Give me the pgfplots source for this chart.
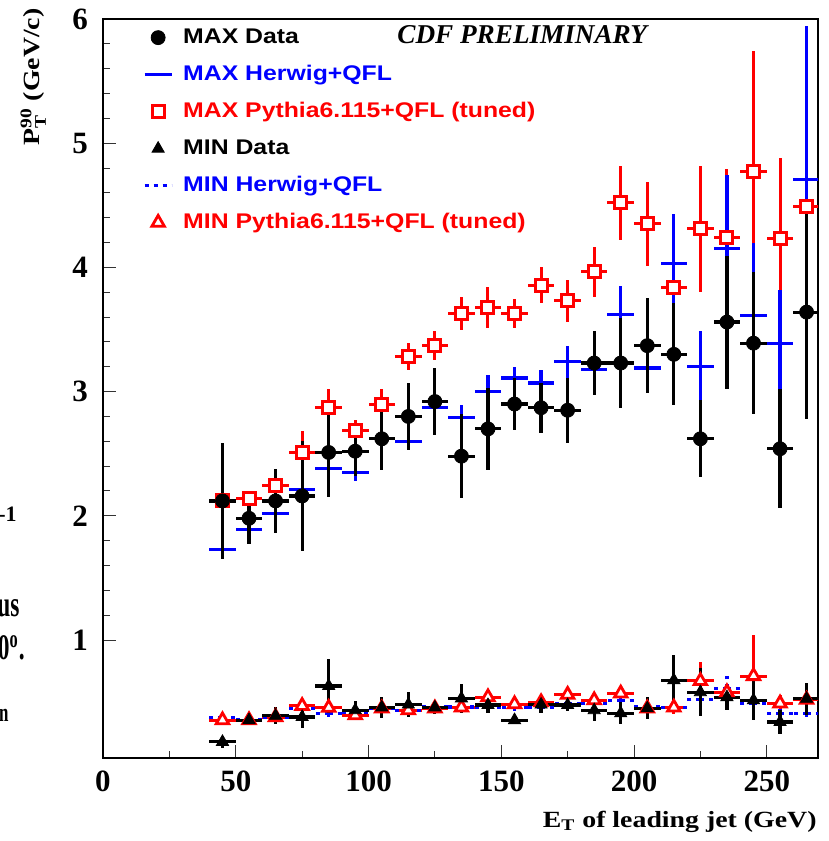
\documentclass[border=0pt]{standalone}
\usepackage{amsmath}
\usepackage{fontspec}
\setmainfont{Liberation Serif}
\newfontfamily\legfont{Liberation Sans}[FakeStretch=1.17]
\newfontfamily\labfont{Liberation Serif}[FakeStretch=1.2]
\newfontfamily\condfont{Liberation Serif}[FakeStretch=0.65]
\usepackage{pgfplots}
\usepackage{pgfplotstable}
\pgfplotsset{compat=1.18}

% MAX region
\pgfplotstableread{
x y ey
45 2.12 0.47
55 1.98 0.21
65 2.12 0.26
75 2.16 0.44
85 2.51 0.36
95 2.52 0.20
105 2.62 0.25
115 2.80 0.27
125 2.92 0.27
135 2.48 0.34
145 2.70 0.33
155 2.90 0.21
165 2.87 0.20
175 2.85 0.26
185 3.23 0.26
195 3.23 0.36
205 3.37 0.385
215 3.30 0.41
225 2.62 0.31
235 3.56 0.535
245 3.39 0.57
255 2.54 0.48
265 3.64 0.86
}\maxdata

\pgfplotstableread{
x y ey
45 1.73 0.07
55 1.89 0.03
65 2.02 0.07
75 2.21 0.15
85 2.38 0.10
95 2.35 0.07
105 2.62 0.05
115 2.60 0.07
125 2.87 0.05
135 2.79 0.10
145 3.00 0.13
155 3.11 0.09
165 3.07 0.10
175 3.24 0.13
185 3.18 0.10
195 3.62 0.23
205 3.19 0.15
215 4.03 0.40
225 3.20 0.29
235 4.15 0.59
245 3.61 0.59
255 3.39 0.43
265 4.71 1.23
}\maxherwig

\pgfplotstableread{
x y ey
45 2.12 0.05
55 2.14 0.04
65 2.245 0.06
75 2.51 0.17
85 2.875 0.15
95 2.69 0.08
105 2.895 0.13
115 3.28 0.11
125 3.37 0.115
135 3.63 0.13
145 3.68 0.165
155 3.63 0.115
165 3.855 0.145
175 3.73 0.17
185 3.965 0.20
195 4.52 0.30
205 4.35 0.34
215 3.835 0.10
225 4.31 0.51
235 4.24 0.55
245 4.77 0.97
255 4.23 0.65
265 4.49 0.50
}\maxpythia

% MIN region
\pgfplotstableread{
x y ey
45 0.18 0.05
55 0.355 0.03
65 0.39 0.07
75 0.38 0.09
85 0.63 0.215
95 0.435 0.07
105 0.457 0.085
115 0.48 0.10
125 0.457 0.05
135 0.53 0.115
145 0.476 0.06
155 0.355 0.03
165 0.48 0.07
175 0.476 0.05
185 0.435 0.085
195 0.41 0.09
205 0.45 0.09
215 0.677 0.20
225 0.58 0.195
235 0.54 0.10
245 0.516 0.16
255 0.34 0.10
265 0.527 0.13
}\mindata

\pgfplotstableread{
x y ey
45 0.373 0.02
55 0.36 0.02
65 0.38 0.02
75 0.45 0.03
85 0.41 0.03
95 0.42 0.03
105 0.45 0.03
115 0.43 0.03
125 0.46 0.03
135 0.46 0.03
145 0.46 0.03
155 0.455 0.03
165 0.46 0.03
175 0.49 0.03
185 0.49 0.04
195 0.516 0.04
205 0.46 0.04
215 0.457 0.04
225 0.52 0.05
235 0.61 0.10
245 0.49 0.06
255 0.41 0.06
265 0.41 0.07
}\minherwig

\pgfplotstableread{
x y ey
45 0.355 0.02
55 0.355 0.02
65 0.38 0.02
75 0.47 0.03
85 0.455 0.03
95 0.395 0.03
105 0.45 0.03
115 0.435 0.03
125 0.45 0.03
135 0.457 0.03
145 0.54 0.03
155 0.484 0.03
165 0.50 0.03
175 0.56 0.04
185 0.516 0.04
195 0.57 0.04
205 0.45 0.05
215 0.457 0.05
225 0.67 0.15
235 0.58 0.06
245 0.71 0.33
255 0.49 0.07
265 0.52 0.07
}\minpythia

\pgfplotsset{
  binerr/.style={only marks, forget plot,
    error bars/x dir=both, error bars/x fixed=5,
    error bars/y dir=both, error bars/y explicit,
    error bars/error mark=none,
    error bars/error bar style={line width=#1}},
  nomark/.style={mark=*, mark size=0pt,
    mark options={draw opacity=0, fill opacity=0}},
}

\begin{document}
\begin{tikzpicture}
\path[use as bounding box] (-51.5pt,-41.5pt) rectangle (363pt,379pt);
\begin{axis}[
  name=ax, at={(0pt,0pt)}, anchor=south west,
  scale only axis, width=357.5pt, height=369.5pt,
  xmin=0, xmax=269.3, ymin=0.05, ymax=6,
  xtick={0,50,...,250}, minor x tick num=1,
  ytick={1,2,...,6}, minor y tick num=4,
  xtick pos=bottom, ytick pos=left, tick align=inside,
  major tick length=6.5pt, minor tick length=3.5pt,
  tick style={black!80, line width=0.5pt},
  axis line style={line width=0.6pt},
  /pgf/number format/assume math mode=true,
  ticklabel style={font=\fontsize{15.5}{15.5}\selectfont\bfseries},
  xticklabel style={yshift=-3pt},
  yticklabel style={xshift=-4pt},
  legend cell align=left,
  legend image code/.code={\draw[mark repeat=2,mark phase=2,#1]
    plot coordinates {(0pt,0pt) (6.75pt,0pt) (13.5pt,0pt)};},
  legend style={at={(axis description cs:0.056,0.989)}, anchor=north west,
    draw=none, fill=none, inner sep=0pt, outer sep=0pt,
    font=\legfont\bfseries\fontsize{10.6}{12}\selectfont,
    row sep=8pt,
    nodes={inner sep=0pt, text height=8pt, text depth=2.5pt},
    /tikz/every odd column/.append style={column sep=5pt}},
]
% legend
\addlegendimage{only marks, mark=*, black, mark size=3.5pt}
\addlegendentry{MAX Data}
\addlegendimage{blue, mark=none, line width=1.6pt}
\addlegendentry[text=blue]{MAX Herwig+QFL}
\addlegendimage{only marks, mark=square*, red, mark size=3pt,
  mark options={fill=white, draw=red, line width=1.5pt}}
\addlegendentry[text=red]{MAX Pythia6.115+QFL (tuned)}
\addlegendimage{only marks, mark=triangle*, black, mark size=3.5pt}
\addlegendentry{MIN Data}
\addlegendimage{blue, mark=none, line width=1.6pt, dash pattern=on 2pt off 2.5pt}
\addlegendentry[text=blue]{MIN Herwig+QFL}
\addlegendimage{only marks, mark=triangle*, red, mark size=3.6pt,
  mark options={fill=white, draw=red, line width=1.4pt}}
\addlegendentry[text=red]{MIN Pythia6.115+QFL (tuned)}

% MAX
\addplot[binerr=1.5pt, red, mark=square*, mark size=3pt,
  mark options={fill=white, draw=red, line width=1.5pt}]
  table[x=x, y=y, y error=ey] {\maxpythia};
\addplot[binerr=1.6pt, blue, nomark]
  table[x=x, y=y, y error=ey] {\maxherwig};
\addplot[binerr=1.6pt, black, mark=*, mark size=3.5pt]
  table[x=x, y=y, y error=ey] {\maxdata};
% MIN
\addplot[binerr=1.5pt, red, mark=triangle*, mark size=3.6pt,
  mark options={fill=white, draw=red, line width=1.4pt}]
  table[x=x, y=y, y error=ey] {\minpythia};
\addplot[binerr=1.6pt, blue, nomark,
  error bars/error bar style={line width=1.6pt, dash pattern=on 2pt off 2.5pt}]
  table[x=x, y=y, y error=ey] {\minherwig};
\addplot[binerr=1.6pt, black, mark=triangle*, mark size=3.5pt]
  table[x=x, y=y, y error=ey] {\mindata};
\end{axis}

\node[anchor=base west, inner sep=0pt, font=\fontsize{13.6}{14}\selectfont\bfseries\itshape]
  at (147pt,357pt) {CDF PRELIMINARY};
\node[rotate=90, anchor=base east, inner sep=0pt, font=\labfont\bfseries\fontsize{11.6}{12}\selectfont]
  at (-31.5pt,375pt) {P$_{\text{T}}^{\text{90}}$ (GeV/c)};
\node[anchor=base east, inner sep=0pt, font=\labfont\bfseries\fontsize{11.6}{12}\selectfont]
  at (357pt,-34.5pt) {E$_{\text{T}}$ of leading jet (GeV)};

% cut-off text of the neighbouring panel
\node[anchor=base east, inner sep=0pt, font=\fontsize{11}{12}\selectfont\bfseries]
  at (-43pt,118pt) {-1};
\node[anchor=base east, inner sep=0pt, font=\condfont\bfseries\fontsize{18}{20}\selectfont]
  at (-41.5pt,70.5pt) {us};
\node[anchor=base east, inner sep=0pt, font=\condfont\bfseries\fontsize{18}{20}\selectfont]
  at (-39pt,49pt) {90$^{\text{o}}$.};
\node[anchor=base east, inner sep=0pt, font=\condfont\bfseries\fontsize{13}{14}\selectfont]
  at (-47pt,18pt) {on};
\end{tikzpicture}
\end{document}
